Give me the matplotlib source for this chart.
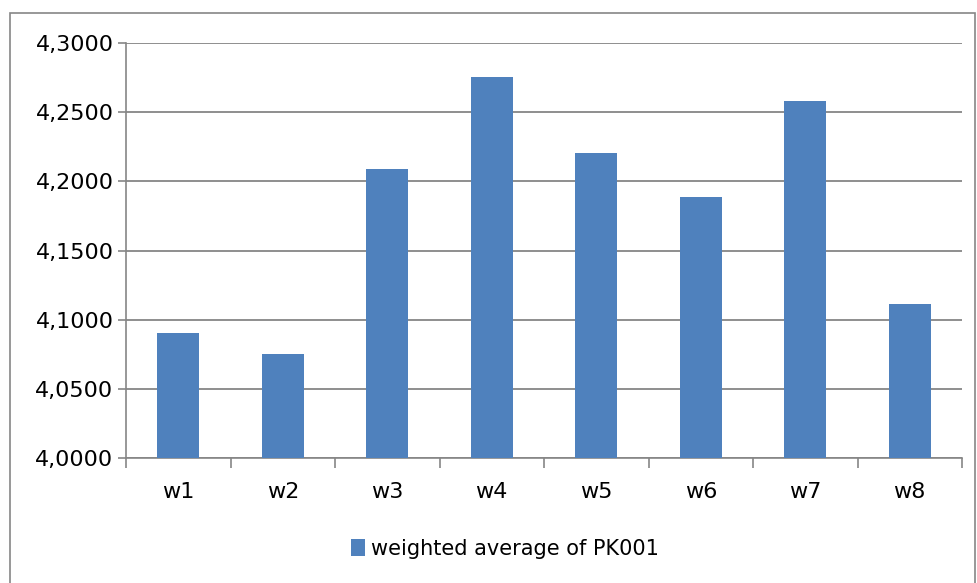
import matplotlib.pyplot as plt
from matplotlib.patches import Rectangle
from matplotlib.ticker import FuncFormatter
import numpy as np

weeks = ['w1', 'w2', 'w3', 'w4', 'w5', 'w6', 'w7', 'w8']
values = [4.0903, 4.0749, 4.2087, 4.2755, 4.2202, 4.1887, 4.2580, 4.1113]
series_name = 'weighted average of PK001'

bar_color = '#4F81BD'
grid_color = '#868686'

plt.rcParams['font.family'] = ['DejaVu Sans']

fig = plt.figure(figsize=(9.78, 5.83), dpi=100)
# outer chart border
fig.patches.append(Rectangle((10 / 978, -0.01), 965 / 978, 1 - 13 / 583 + 0.01,
                             transform=fig.transFigure, fill=False,
                             edgecolor=grid_color, linewidth=1.2))

ax = fig.add_axes([126 / 978, 1 - 458 / 583, (962 - 126) / 978, (458 - 43) / 583])
x = np.arange(len(weeks))
ax.bar(x, values, width=0.4, color=bar_color, zorder=3, label=series_name)

ax.set_xlim(-0.5, len(weeks) - 0.5)
ax.set_ylim(4.0, 4.3)
ax.set_yticks(np.arange(4.0, 4.3001, 0.05))
ax.yaxis.set_major_formatter(FuncFormatter(lambda v, p: f'{v:.4f}'.replace('.', ',')))
ax.grid(axis='y', color=grid_color, linewidth=1.3, zorder=0)

ax.set_xticks(x)
ax.set_xticklabels(weeks)
ax.set_xticks(np.arange(-0.5, len(weeks)), minor=True)
ax.tick_params(axis='x', which='major', length=0, pad=17, labelsize=16)
ax.tick_params(axis='x', which='minor', length=7, color=grid_color, width=1.2, direction='out')
ax.tick_params(axis='y', length=6, color=grid_color, width=1.2, labelsize=16, pad=3)

for side in ['top', 'right']:
    ax.spines[side].set_visible(False)
for side in ['left', 'bottom']:
    ax.spines[side].set_color(grid_color)
    ax.spines[side].set_linewidth(1.2)

fig.legend(loc='center', bbox_to_anchor=(505 / 978, 1 - 549 / 583), frameon=False,
           fontsize=15, handlelength=0.7, handleheight=0.9, handletextpad=0.3)

fig.savefig('out.png', dpi=100)
